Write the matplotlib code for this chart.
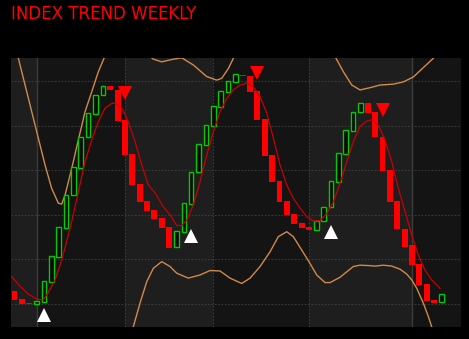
import numpy as np
import matplotlib
matplotlib.use("Agg")
import matplotlib.pyplot as plt

# weekly candles (open, close), one per week
opens = [102.9, 101.2, 100.2, 100.0, 100.4, 104.9, 110.5, 117.0, 124.4, 130.5,
         137.4, 142.6, 146.9, 148.9, 148.0, 141.3, 133.6, 126.9, 123.1, 121.1,
         119.3, 117.3, 112.8, 116.1, 122.5, 129.6, 135.7, 140.0, 144.2, 147.6,
         149.8, 151.3, 151.2, 147.8, 141.5, 133.4, 127.6, 123.2, 120.2, 118.2,
         117.3, 116.6, 118.5, 121.7, 127.4, 133.6, 138.9, 143.0, 145.1, 143.0,
         137.5, 130.0, 123.2, 116.8, 113.2, 109.0, 104.5, 100.9, 100.4]
closes = [101.0, 100.0, 100.0, 100.7, 105.2, 110.8, 117.3, 124.4, 130.7, 137.4,
          142.8, 146.9, 148.9, 148.0, 141.0, 133.4, 126.7, 122.9, 120.9, 119.1,
          117.0, 112.6, 116.4, 122.6, 129.7, 135.9, 140.1, 144.5, 147.8, 150.0,
          151.6, 151.1, 147.6, 141.3, 133.2, 127.4, 122.9, 120.0, 117.9, 117.0,
          116.5, 118.6, 121.8, 127.6, 133.9, 139.0, 143.1, 145.1, 142.8, 137.4,
          129.9, 122.9, 116.8, 112.8, 108.7, 104.3, 100.7, 100.2, 102.2]

# trend line (week position, value)
trend_x = [-0.48, 0.75, 1.88, 3.02, 3.91, 4.59, 5.50, 6.18, 6.86, 7.77, 8.67, 9.58,
           10.49, 11.39, 12.30, 13.21, 13.65, 14.57, 15.46, 16.37, 17.28, 18.18,
           19.09, 20.22, 21.13, 22.04, 22.72, 23.40, 24.29, 25.20, 26.11, 27.01,
           27.92, 28.83, 29.73, 30.64, 31.55, 32.45, 33.36, 34.27, 35.16, 36.07,
           36.98, 37.88, 38.79, 39.70, 40.60, 41.51, 42.42, 43.32, 44.23, 45.14,
           46.03, 46.94, 47.85, 48.53, 49.43, 50.34, 51.25, 52.15, 53.06, 53.97,
           54.86, 55.77, 56.68, 57.81]
trend_y = [106.3, 104.0, 102.2, 101.1, 100.9, 102.6, 105.4, 108.7, 112.6, 118.5,
           125.2, 131.9, 136.8, 140.9, 143.9, 145.0, 145.0, 144.0, 140.9, 136.4,
           131.2, 126.7, 124.9, 121.8, 120.0, 117.6, 117.6, 118.8, 122.2, 127.4,
           133.4, 138.6, 143.1, 146.1, 148.0, 149.1, 149.5, 148.7, 146.5, 142.8,
           137.2, 131.2, 126.7, 123.7, 121.5, 119.6, 118.6, 118.7, 120.3, 122.9,
           127.1, 131.9, 136.4, 139.8, 141.0, 141.3, 140.1, 136.8, 131.9, 125.9,
           120.7, 115.5, 111.0, 107.6, 105.4, 103.5]

# upper band
upper_x = [-0.48, 0.52, 1.43, 2.34, 3.23, 4.14, 5.05, 5.95, 6.41, 6.86, 7.77, 8.67,
           9.58, 10.49, 11.39, 12.16, 13.65, 16.4, 18.41, 18.86, 20.0, 21.58, 22.72,
           24.29, 26.11, 27.47, 28.15, 29.05, 29.73, 31.3, 41.5, 43.68, 44.67, 45.82,
           46.94, 48.3, 49.66, 51.47, 52.83, 54.18, 55.54, 56.9, 57.95]
upper_y = [161.7, 155.1, 149.1, 143.1, 137.2, 131.2, 125.9, 122.6, 122.4, 124.4,
           130.4, 136.8, 143.1, 147.6, 152.1, 155.1, 159.2, 158.1, 155.5, 154.9,
           154.3, 154.9, 155.2, 153.6, 151.0, 150.2, 150.6, 152.8, 155.1, 160.3,
           159.2, 155.1, 152.1, 149.1, 148.0, 148.5, 149.1, 149.3, 149.8, 150.9,
           153.0, 155.1, 157.0]

# lower band
lower_x = [-0.48, 8.0, 13.65, 15.0, 16.14, 17.05, 17.96, 18.86, 20.0, 21.13, 22.04,
           23.61, 25.2, 26.56, 27.92, 29.28, 30.87, 32.0, 33.36, 34.71, 35.84, 36.98,
           37.88, 39.02, 40.14, 41.06, 42.19, 42.87, 44.23, 46.03, 46.94, 48.3, 48.98,
           50.11, 51.25, 52.38, 53.29, 53.97, 54.65, 55.54, 56.22, 56.68, 57.95]
lower_y = [80.0, 75.0, 84.5, 88.3, 94.9, 100.2, 105.0, 108.0, 109.5, 108.4, 106.9,
           105.8, 106.5, 107.5, 107.4, 105.8, 104.6, 105.8, 108.4, 111.7, 115.1, 116.2,
           115.1, 112.1, 109.1, 106.5, 104.8, 104.8, 106.0, 108.4, 108.7, 108.6, 108.5,
           108.7, 108.5, 107.8, 106.7, 105.4, 103.5, 100.2, 97.2, 94.9, 89.7]

# buy / sell signals
buy_x = [4, 24, 43]
buy_y = [97.6, 115.2, 116.1]
sell_x = [15, 33, 50]
sell_y = [147.2, 151.7, 143.4]

# quarter separators (week positions); year separators drawn solid
quarter_x = [15, 27, 40]
year_x = [3, 54]
band_edges = [-0.48, 3, 15, 27, 40, 54, 60.66]

fig = plt.figure(figsize=(4.69, 3.39), dpi=100, facecolor='black')
ax = fig.add_axes([11 / 469, 12 / 339, 450 / 469, 269 / 339])
ax.set_facecolor('#141414')

for k in range(len(band_edges) - 1):
    if k % 2 == 0:
        ax.axvspan(band_edges[k], band_edges[k + 1], color='#1e1e1e', lw=0, zorder=0)

for yv in [100, 110, 120, 130, 140, 150]:
    ax.axhline(yv, color='#3a3a3a', lw=0.8, ls=(0, (1.5, 1.5)), zorder=1)
for xv in quarter_x:
    ax.axvline(xv, color='#3a3a3a', lw=0.8, ls=(0, (1.5, 1.5)), zorder=1)
for xv in year_x:
    ax.axvline(xv, color='#3c3c3c', lw=1.0, zorder=1)

ax.plot(upper_x, upper_y, color='#d08a4a', lw=1.0, zorder=2)
ax.plot(lower_x, lower_y, color='#d08a4a', lw=1.0, zorder=2)

opens = np.array(opens)
closes = np.array(closes)
idx = np.arange(len(opens))
up = closes >= opens
ax.bar(idx[~up], (opens - closes)[~up], bottom=closes[~up], width=0.8,
       color='#ff0000', lw=0, zorder=3)
ax.bar(idx[up], (closes - opens)[up], bottom=opens[up], width=0.62,
       facecolor='#050505', edgecolor='#00cc00', lw=1.0, zorder=3)

ax.plot(trend_x, trend_y, color='#c80000', lw=0.9, zorder=4)

ax.plot(buy_x, buy_y, '^', color='white', ms=10, mew=0, zorder=5)
ax.plot(sell_x, sell_y, 'v', color='#ff0000', ms=10, mew=0, zorder=5)

ax.set_xlim(-0.48, 60.66)
ax.set_ylim(94.84, 155.16)
ax.set_xticks([])
ax.set_yticks([])
for s in ax.spines.values():
    s.set_visible(False)

fig.text(11 / 469, 1 - 5 / 339, 'INDEX TREND WEEKLY', color='#ff0000',
         fontsize=12, va='top', ha='left', family='DejaVu Sans')

fig.savefig('out.png', dpi=100, facecolor='black')
